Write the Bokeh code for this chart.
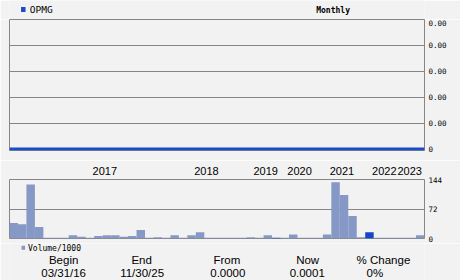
from bokeh.plotting import figure
from bokeh.layouts import column
from bokeh.models import Range1d, FixedTicker, ColumnDataSource, PrintfTickFormatter
from bokeh.core.properties import value
from bokeh.embed import file_html
from bokeh.resources import INLINE

# ---------------- data ----------------
symbol = "OPMG"
period = "Monthly"
years = ["2017", "2018", "2019", "2020", "2021", "2022", "2023"]
year_start_bar = [11, 23, 30, 34, 39, 44, 47]
volume_k = [38, 35, 132, 28, 2, 2, 2, 8, 4, 2, 6, 8, 8, 4, 6, 21, 2, 3, 2, 8,
            2, 8, 15, 2, 2, 2, 2, 2, 3, 2, 8, 2, 2, 10, 2, 2, 2, 10, 137, 106,
            55, 3, 15, 2, 2, 2, 2, 2, 8]
highlight_bars = [31, 42]
price = [0.0000, 0.0000, 0.0000, 0.0000, 0.0000, 0.0000, 0.0000, 0.0000, 0.0000, 0.0000,
         0.0000, 0.0000, 0.0000, 0.0000, 0.0000, 0.0000, 0.0000, 0.0000, 0.0000, 0.0000,
         0.0000, 0.0000, 0.0000, 0.0000, 0.0000, 0.0000, 0.0000, 0.0000, 0.0000, 0.0000,
         0.0000, 0.0000, 0.0000, 0.0000, 0.0000, 0.0000, 0.0000, 0.0000, 0.0000, 0.0000,
         0.0000, 0.0000, 0.0000, 0.0000, 0.0000, 0.0000, 0.0000, 0.0000, 0.0000]
price_ticks = [0, 0.0005, 0.001, 0.0015, 0.002, 0.0025]
volume_ticks = [0, 72, 144]
summary_labels = ["Begin", "End", "From", "Now", "% Change"]
summary_values = ["03/31/16", "11/30/25", "0.0000", "0.0001", "0%"]
volume_legend = "Volume/1000"

# ---------------- styles ----------------
BG = "#f2f2f2"
FRAME = "#868686"
LINE_BLUE = "#1a4cc6"
BAR = "#8698c5"
BAR_HI = "#1246c6"
MONO = value("DejaVu Sans Mono")
SANS = value("Liberation Sans")
W = 460


def base(height, **kw):
    p = figure(width=W, height=height, output_backend="svg", toolbar_location=None,
               title=None, **kw)
    p.background_fill_color = BG
    p.border_fill_color = BG
    return p


def strip(p):
    p.outline_line_color = None
    for g in p.xgrid:
        g.visible = False
    for g in p.ygrid:
        g.visible = False


def style_right_axis(ax, ticks, baseline):
    ax.ticker = FixedTicker(ticks=ticks)
    ax.axis_line_color = None
    ax.major_tick_line_color = None
    ax.minor_tick_line_color = None
    ax.major_tick_out = 0
    ax.major_tick_in = 0
    ax.minor_tick_out = 0
    ax.major_label_standoff = 4
    ax.major_label_text_font = "DejaVu Sans Mono"
    ax.major_label_text_font_size = "7.5px"
    ax.major_label_text_color = "black"
    ax.major_label_text_baseline = baseline


# ---------------- header ----------------
hdr = base(19, x_range=Range1d(0, W), y_range=Range1d(19, 0), min_border=0,
           x_axis_location=None, y_axis_location=None)
strip(hdr)
hdr.rect(x=[15.3], y=[9], width=5, height=5, fill_color=LINE_BLUE, line_color=None)
hdr.text(x=[22.5], y=[9], text=[symbol], text_font=MONO, text_font_size=value("9.5px"),
         text_baseline="middle", text_align="left", text_color="black")
hdr.text(x=[340], y=[9.5], text=[period], text_font=MONO, text_font_size=value("8px"),
         text_baseline="middle", text_align="left", text_color="black", text_font_style="bold")

# ---------------- price chart ----------------
n = len(price)
p1 = base(141, x_range=Range1d(0, n - 1), y_range=Range1d(-0.00003, 0.0025),
          min_border_left=9, min_border_right=36, min_border_top=0, min_border_bottom=10,
          x_axis_location=None, y_axis_location="right")
p1.outline_line_color = FRAME
p1.line(x=list(range(n)), y=price, line_color=LINE_BLUE, line_width=3)
ya = p1.yaxis[0]
style_right_axis(ya, price_ticks, "top")
ya.formatter = PrintfTickFormatter(format="%.2f")
ya.major_label_overrides = {0: "0"}
for g in p1.xgrid:
    g.visible = False
p1.ygrid.ticker = FixedTicker(ticks=price_ticks)
p1.ygrid.grid_line_color = FRAME

# ---------------- volume chart ----------------
m = len(volume_k)
colors = [BAR_HI if i in highlight_bars else BAR for i in range(m)]
src = ColumnDataSource(dict(x=[i + 0.5 for i in range(m)], top=volume_k, color=colors))
p2 = base(83, x_range=Range1d(0, m), y_range=Range1d(0, volume_ticks[-1]),
          min_border_left=9, min_border_right=36, min_border_top=19, min_border_bottom=5,
          x_axis_location="above", y_axis_location="right")
p2.outline_line_color = FRAME
p2.vbar(x="x", top="top", bottom=0, width=1, source=src, fill_color="color", line_color=None)
xa = p2.xaxis[0]
year_ticks = [i + 0.25 for i in year_start_bar]
xa.ticker = FixedTicker(ticks=year_ticks)
xa.major_label_overrides = {t: y for t, y in zip(year_ticks, years)}
xa.axis_line_color = None
xa.major_tick_line_color = None
xa.minor_tick_line_color = None
xa.major_tick_out = 0
xa.major_tick_in = 0
xa.minor_tick_out = 0
xa.major_label_standoff = 5
xa.major_label_text_font = "Liberation Sans"
xa.major_label_text_font_size = "11px"
xa.major_label_text_color = "black"
ya2 = p2.yaxis[0]
style_right_axis(ya2, volume_ticks, "middle")
for g in p2.xgrid:
    g.visible = False
p2.ygrid.ticker = FixedTicker(ticks=volume_ticks)
p2.ygrid.grid_line_color = FRAME

# ---------------- footer ----------------
ft = base(37, x_range=Range1d(0, W), y_range=Range1d(37, 0), min_border=0,
          x_axis_location=None, y_axis_location=None)
strip(ft)
ft.rect(x=[15.3], y=[4.3], width=4, height=4, fill_color=BAR, line_color=None)
ft.text(x=[20.5], y=[4.7], text=[volume_legend], text_font=MONO, text_font_size=value("8px"),
        text_baseline="middle", text_align="left", text_color="black")
label_x = [60, 146.5, 241, 330.5, 414.5]
value_x = [60, 147, 242, 330, 405]
ft.text(x=label_x, y=[16] * 5, text=summary_labels, text_font=SANS,
        text_font_size=value("11.5px"), text_baseline="middle", text_align="center",
        text_color="black")
ft.text(x=value_x, y=[29.7] * 5, text=summary_values, text_font=SANS,
        text_font_size=value("11.5px"), text_baseline="middle", text_align="center",
        text_color="black")

layout = column(hdr, p1, p2, ft, spacing=0)
open("out.html", "w").write(file_html(layout, INLINE))
